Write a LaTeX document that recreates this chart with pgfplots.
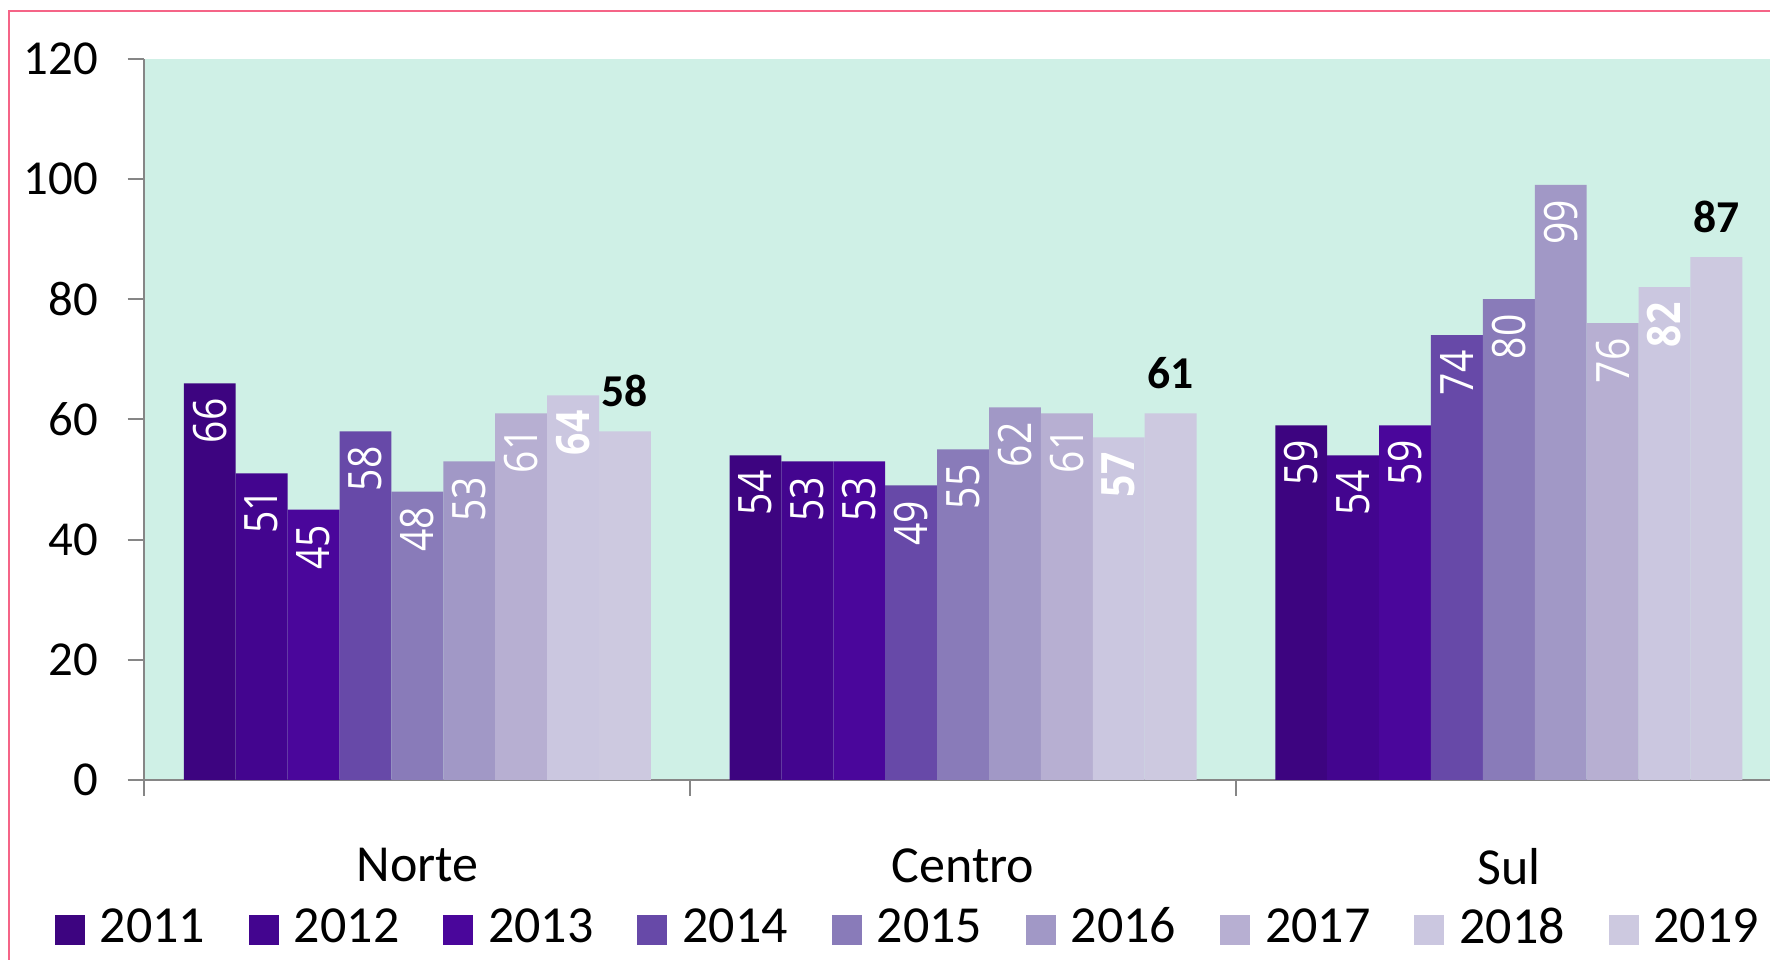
\documentclass[border=0pt]{standalone}
\usepackage{pgfplots}
\pgfplotsset{compat=1.18}
\usepackage{fontspec}
\setmainfont{Carlito}
\newfontfamily\labfont[FakeStretch=0.85]{Open Sans}
\definecolor{c1}{RGB}{61,4,128}
\definecolor{c2}{RGB}{67,5,143}
\definecolor{c3}{RGB}{74,6,155}
\definecolor{c4}{RGB}{103,73,168}
\definecolor{c5}{RGB}{137,123,185}
\definecolor{c6}{RGB}{161,152,198}
\definecolor{c7}{RGB}{183,175,210}
\definecolor{c8}{RGB}{203,199,224}
\definecolor{c9}{RGB}{205,201,224}
\definecolor{bgteal}{RGB}{207,240,230}
\definecolor{axisgray}{RGB}{134,134,134}
\definecolor{framepink}{RGB}{245,100,135}
\pgfplotsset{
  inlab/.style={nodes near coords, every node near coord/.append style={font=\labfont\fontsize{11.5}{13}\selectfont, text=white, rotate=90, anchor=east, inner xsep=3.6pt, inner ysep=0pt}},
  inlabb/.style={nodes near coords, every node near coord/.append style={font=\labfont\fontsize{11.5}{13}\selectfont\bfseries, text=white, rotate=90, anchor=east, inner xsep=3.6pt, inner ysep=0pt}},
  toplab/.style={nodes near coords, every node near coord/.append style={font=\fontsize{11.4}{13}\selectfont\bfseries, text=black, anchor=south, inner ysep=5.9pt, inner xsep=0pt}},
}
\begin{document}
\begin{tikzpicture}
\useasboundingbox (0,0) rectangle (442.5pt,240pt);
\clip (0,0) rectangle (442.5pt,240pt);
\draw[framepink, line width=0.55pt] (2.25pt,237.2pt) rectangle (460pt,-20pt);
\begin{axis}[
  at={(36.125pt,45pt)}, anchor=south west,
  scale only axis, width=409.3pt, height=180.3pt,
  ymin=0, ymax=120, ytick={0,20,...,120},
  xmin=-0.5, xmax=2.5,
  xtick={0,1,2}, xticklabels={Norte,Centro,Sul},
  minor xtick={-0.5,0.5,1.5,2.5},
  axis x line*=bottom, axis y line*=left,
  axis line style={draw=axisgray, line width=0.5pt},
  tick align=outside, major tick length=4.2pt, minor tick length=4pt,
  tick style={axisgray, line width=0.5pt},
  major x tick style={draw=none},
  ybar=0pt, bar width=0.0951,
  axis background/.style={fill=bgteal},
  /pgf/number format/assume math mode=true,
  yticklabel style={font=\fontsize{12.2}{14}\selectfont, anchor=east, inner sep=0pt, xshift=-7.2pt},
  xticklabel style={font=\fontsize{13}{15}\selectfont, anchor=north, inner sep=0pt, yshift=-12.7pt},
  legend columns=9,
  legend style={at={(axis description cs:-0.0553,-0.2058)}, anchor=west, draw=none, fill=none, inner sep=0pt,
    font=\fontsize{13}{15}\selectfont, nodes={inner sep=0pt},
    /tikz/every odd column/.append style={column sep=3.75pt},
    /tikz/every even column/.append style={column sep=10.95pt}},
  legend image code/.code={\fill[#1] (0pt,-4.15pt) rectangle (7.5pt,3.35pt);},
  clip=false,
]
\addplot[fill=c1, draw=none, bar shift=-0.3804, inlab] coordinates {(0,66) (1,54) (2,59)};
\addplot[fill=c2, draw=none, bar shift=-0.2853, inlab] coordinates {(0,51) (1,53) (2,54)};
\addplot[fill=c3, draw=none, bar shift=-0.1902, inlab] coordinates {(0,45) (1,53) (2,59)};
\addplot[fill=c4, draw=none, bar shift=-0.0951, inlab] coordinates {(0,58) (1,49) (2,74)};
\addplot[fill=c5, draw=none, bar shift=0, inlab] coordinates {(0,48) (1,55) (2,80)};
\addplot[fill=c6, draw=none, bar shift=0.0951, inlab] coordinates {(0,53) (1,62) (2,99)};
\addplot[fill=c7, draw=none, bar shift=0.1902, inlab] coordinates {(0,61) (1,61) (2,76)};
\addplot[fill=c8, draw=none, bar shift=0.2853, inlabb] coordinates {(0,64) (1,57) (2,82)};
\addplot[fill=c9, draw=none, bar shift=0.3804, toplab] coordinates {(0,58) (1,61) (2,87)};
\legend{2011,2012,2013,2014,2015,2016,2017,2018,2019}
\end{axis}
\end{tikzpicture}
\end{document}
